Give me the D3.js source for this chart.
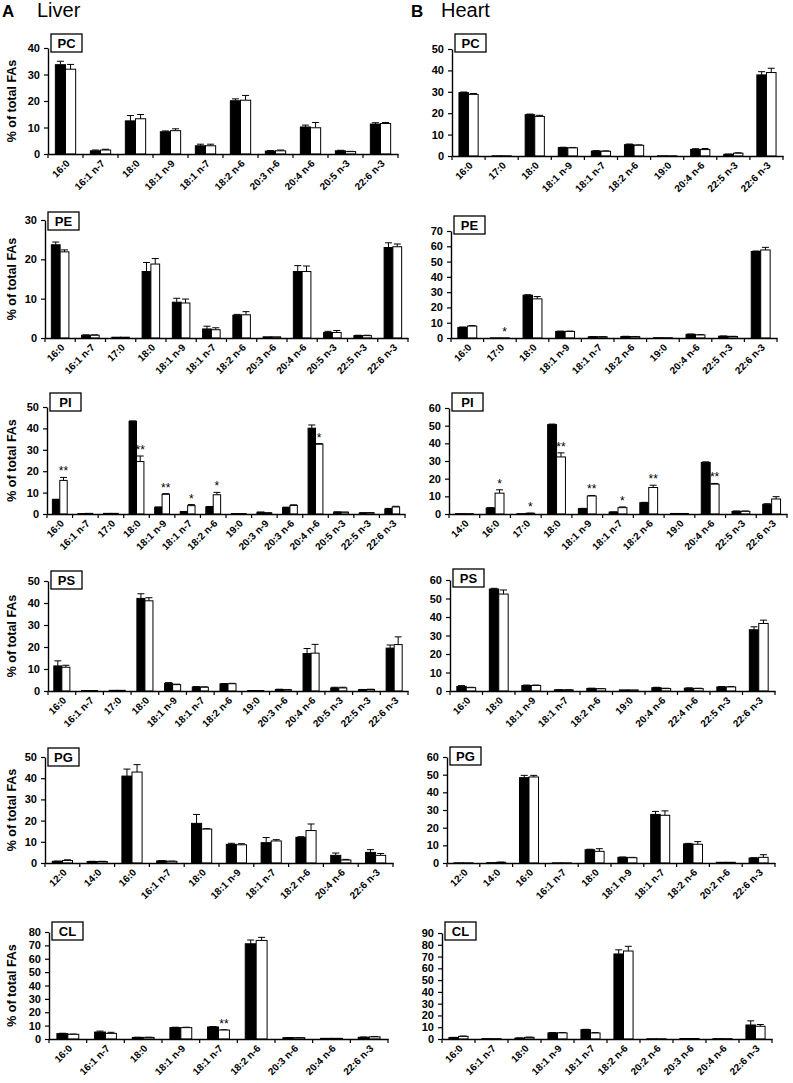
<!DOCTYPE html>
<html>
<head>
<meta charset="utf-8">
<script src="https://cdn.jsdelivr.net/npm/d3@7"></script>
<style>
  body { margin: 0; background: #fff; }
  text { font-family: "Liberation Sans", Arial, Helvetica, sans-serif; }
</style>
</head>
<body>
<div id="chart"></div>
<script>
// ---- Liver ----
const liverPCCats = ["16:0","16:1 n-7","18:0","18:1 n-9","18:1 n-7","18:2 n-6","20:3 n-6","20:4 n-6","20:5 n-3","22:6 n-3"];
const liverPCBlack = [33.7,1.2,12.5,8.4,3.1,20.1,1.1,10.2,1.2,11.3];
const liverPCBlackErr = [1.3,0.3,2.0,0.3,0.6,0.7,0.2,0.7,0.2,0.5];
const liverPCWhite = [32.0,1.5,13.3,8.8,3.1,20.3,1.2,9.9,0.9,11.5];
const liverPCWhiteErr = [1.8,0.3,1.6,0.7,0.6,1.8,0.3,2.0,0.1,0.4];
const liverPCSig = [];

const liverPECats = ["16:0","16:1 n-7","17:0","18:0","18:1 n-9","18:1 n-7","18:2 n-6","20:3 n-6","20:4 n-6","20:5 n-3","22:5 n-3","22:6 n-3"];
const liverPEBlack = [23.7,0.7,0.2,16.9,9.1,2.3,5.8,0.3,16.9,1.4,0.6,23.0];
const liverPEBlackErr = [0.7,0.1,0,2.3,1.0,0.7,0.2,0,1.5,0.3,0.1,1.2];
const liverPEWhite = [21.9,0.7,0.2,18.8,8.9,2.1,5.9,0.3,16.9,1.4,0.6,23.2];
const liverPEWhiteErr = [0.5,0.1,0,1.4,1.0,0.5,0.8,0,1.4,0.5,0.1,0.7];
const liverPESig = [];

const liverPICats = ["16:0","16:1 n-7","17:0","18:0","18:1 n-9","18:1 n-7","18:2 n-6","19:0","20:3 n-9","20:3 n-6","20:4 n-6","20:5 n-3","22:5 n-3","22:6 n-3"];
const liverPIBlack = [6.7,0.2,0.3,43.3,3.1,1.1,3.3,0.2,0.8,3.0,40.1,0.9,0.5,2.3];
const liverPIBlackErr = [0.2,0,0,0.2,0.2,0.1,0.2,0,0.1,0.2,1.5,0.1,0.1,0.3];
const liverPIWhite = [15.7,0.3,0.3,24.5,9.2,3.9,9.0,0.2,0.5,4.0,32.6,0.8,0.6,3.3];
const liverPIWhiteErr = [1.4,0,0,2.6,0.3,0.5,1.1,0,0.1,0.3,0.3,0.1,0.1,0.3];
const liverPISig = ["**","","","**","**","*","*","","","","*","","",""];

const liverPSCats = ["16:0","16:1 n-7","17:0","18:0","18:1 n-9","18:1 n-7","18:2 n-6","19:0","20:3 n-6","20:4 n-6","20:5 n-3","22:5 n-3","22:6 n-3"];
const liverPSBlack = [11.4,0.2,0.3,42.1,3.5,1.8,3.2,0.2,0.7,17.0,1.4,0.6,19.5];
const liverPSBlackErr = [2.3,0,0,2.1,0.3,0.2,0.2,0,0.1,2.3,0.3,0.1,1.4];
const liverPSWhite = [10.8,0.2,0.3,41.0,2.9,1.7,3.3,0.2,0.6,17.2,1.4,0.7,21.1];
const liverPSWhiteErr = [0.9,0,0,1.4,0.2,0.2,0.2,0,0.1,4.0,0.3,0.1,3.5];
const liverPSSig = [];

const liverPGCats = ["12:0","14:0","16:0","16:1 n-7","18:0","18:1 n-9","18:1 n-7","18:2 n-6","20:4 n-6","22:6 n-3"];
const liverPGBlack = [0.8,0.7,41.0,1.0,18.7,8.8,9.6,12.1,3.6,5.0];
const liverPGBlackErr = [0.1,0.1,3.3,0.1,4.2,0.5,2.4,0.3,1.1,1.3];
const liverPGWhite = [1.2,0.7,42.9,0.8,16.0,8.6,10.4,15.3,1.4,3.6];
const liverPGWhiteErr = [0.3,0.1,3.5,0.1,0.2,0.5,0.6,3.1,0.3,0.9];
const liverPGSig = [];

const liverCLCats = ["16:0","16:1 n-7","18:0","18:1 n-9","18:1 n-7","18:2 n-6","20:3 n-6","20:4 n-6","22:6 n-3"];
const liverCLBlack = [4.0,5.2,1.2,8.5,9.0,71.2,1.0,0.5,1.3];
const liverCLBlackErr = [0.3,0.7,0.1,0.3,0.3,2.8,0.1,0,0.2];
const liverCLWhite = [3.5,4.2,1.2,8.5,6.7,73.7,1.0,0.5,1.6];
const liverCLWhiteErr = [0.2,0.8,0.1,0.3,0.2,2.3,0.1,0,0.3];
const liverCLSig = ["","","","","**","","","",""];

// ---- Heart ----
const heartPCCats = ["16:0","17:0","18:0","18:1 n-9","18:1 n-7","18:2 n-6","19:0","20:4 n-6","22:5 n-3","22:6 n-3"];
const heartPCBlack = [29.6,0.1,19.3,3.9,2.3,5.3,0.1,3.1,0.8,37.9];
const heartPCBlackErr = [0.3,0,0.3,0.2,0.2,0.3,0,0.3,0.1,1.5];
const heartPCWhite = [28.8,0.1,18.5,3.8,2.2,5.0,0.1,3.0,1.3,39.0];
const heartPCWhiteErr = [0.4,0,0.5,0.2,0.2,0.2,0,0.5,0.2,2.0];
const heartPCSig = [];

const heartPECats = ["16:0","17:0","18:0","18:1 n-9","18:1 n-7","18:2 n-6","19:0","20:4 n-6","22:5 n-3","22:6 n-3"];
const heartPEBlack = [6.9,0.1,28.0,4.3,0.8,1.0,0.2,2.4,1.2,56.6];
const heartPEBlackErr = [0.3,0,0.3,0.2,0.1,0.1,0,0.2,0.1,0.3];
const heartPEWhite = [7.8,0.1,25.6,4.3,0.8,0.9,0.2,2.0,1.0,57.6];
const heartPEWhiteErr = [0.3,0,1.5,0.2,0.1,0.1,0,0.2,0.1,1.7];
const heartPESig = ["","*","","","","","","","",""];

const heartPICats = ["14:0","16:0","17:0","18:0","18:1 n-9","18:1 n-7","18:2 n-6","19:0","20:4 n-6","22:5 n-3","22:6 n-3"];
const heartPIBlack = [0.2,3.4,0.2,50.6,3.0,1.1,6.4,0.3,29.2,1.5,5.5];
const heartPIBlackErr = [0,0.2,0,0.3,0.2,0.1,0.2,0,0.3,0.2,0.3];
const heartPIWhite = [0.2,11.8,0.4,32.3,10.2,3.6,15.0,0.3,16.9,1.5,8.5];
const heartPIWhiteErr = [0,1.9,0.1,2.3,0.3,0.4,1.3,0,0.4,0.2,1.3];
const heartPISig = ["","*","*","**","**","*","**","","**","",""];

const heartPSCats = ["16:0","18:0","18:1 n-9","18:1 n-7","18:2 n-6","19:0","20:4 n-6","22:4 n-6","22:5 n-3","22:6 n-3"];
const heartPSBlack = [2.5,55.1,3.0,0.6,1.4,0.6,1.8,1.5,2.2,33.1];
const heartPSBlackErr = [0.4,0.4,0.2,0.1,0.1,0,0.2,0.2,0.2,1.6];
const heartPSWhite = [1.8,52.4,3.0,0.6,1.2,0.6,1.3,1.3,2.2,36.5];
const heartPSWhiteErr = [0.2,2.2,0.2,0.1,0.1,0,0.2,0.2,0.2,1.8];
const heartPSSig = [];

const heartPGCats = ["12:0","14:0","16:0","16:1 n-7","18:0","18:1 n-9","18:1 n-7","18:2 n-6","20:2 n-6","22:6 n-3"];
const heartPGBlack = [0.1,0.2,48.3,0.1,7.5,3.2,27.5,10.8,0.4,2.8];
const heartPGBlackErr = [0,0,1.3,0,0.3,0.2,1.7,0.3,0,0.2];
const heartPGWhite = [0.1,0.4,48.7,0.1,6.6,3.0,27.0,10.6,0.4,3.2];
const heartPGWhiteErr = [0,0.1,0.9,0,1.5,0.2,2.5,1.5,0,1.5];
const heartPGSig = [];

const heartCLCats = ["16:0","16:1 n-7","18:0","18:1 n-9","18:1 n-7","18:2 n-6","20:2 n-6","20:3 n-6","20:4 n-6","22:6 n-3"];
const heartCLBlack = [1.2,0.3,0.8,5.2,7.9,72.2,0.2,0.4,0.3,11.9];
const heartCLBlackErr = [0.2,0,0.1,0.3,0.3,3.5,0,0,0,3.5];
const heartCLWhite = [2.2,0.3,1.4,5.2,5.1,74.7,0.2,0.4,0.3,10.8];
const heartCLWhiteErr = [0.3,0,0.2,0.3,0.3,4.0,0,0,0,1.5];
const heartCLSig = [];

const yMaxes = { liver: [40,30,50,50,50,80], heart: [50,70,60,60,60,90] };

// panel placement (px): axis left/right, top tick / zero line, label box top
const liverLayout = [
  {x0:48, x1:398, top:48,  bottom:154, box:34},
  {x0:45, x1:408, top:220, bottom:338, box:212},
  {x0:47, x1:405, top:407, bottom:514, box:393},
  {x0:48, x1:408, top:581, bottom:691, box:571},
  {x0:45, x1:393, top:757, bottom:863, box:748},
  {x0:49, x1:388, top:932, bottom:1039, box:922}
];
const heartLayout = [
  {x0:452, x1:783, top:49,  bottom:156, box:34},
  {x0:451, x1:777, top:231, bottom:338, box:216},
  {x0:449, x1:787, top:408, bottom:514, box:393},
  {x0:450, x1:775, top:580, bottom:691, box:569},
  {x0:447, x1:775, top:757, bottom:863, box:747},
  {x0:442, x1:772, top:933, bottom:1039, box:922}
];

const lipids = ["PC","PE","PI","PS","PG","CL"];
const liverData = [
  [liverPCCats, liverPCBlack, liverPCBlackErr, liverPCWhite, liverPCWhiteErr, liverPCSig],
  [liverPECats, liverPEBlack, liverPEBlackErr, liverPEWhite, liverPEWhiteErr, liverPESig],
  [liverPICats, liverPIBlack, liverPIBlackErr, liverPIWhite, liverPIWhiteErr, liverPISig],
  [liverPSCats, liverPSBlack, liverPSBlackErr, liverPSWhite, liverPSWhiteErr, liverPSSig],
  [liverPGCats, liverPGBlack, liverPGBlackErr, liverPGWhite, liverPGWhiteErr, liverPGSig],
  [liverCLCats, liverCLBlack, liverCLBlackErr, liverCLWhite, liverCLWhiteErr, liverCLSig]
];
const heartData = [
  [heartPCCats, heartPCBlack, heartPCBlackErr, heartPCWhite, heartPCWhiteErr, heartPCSig],
  [heartPECats, heartPEBlack, heartPEBlackErr, heartPEWhite, heartPEWhiteErr, heartPESig],
  [heartPICats, heartPIBlack, heartPIBlackErr, heartPIWhite, heartPIWhiteErr, heartPISig],
  [heartPSCats, heartPSBlack, heartPSBlackErr, heartPSWhite, heartPSWhiteErr, heartPSSig],
  [heartPGCats, heartPGBlack, heartPGBlackErr, heartPGWhite, heartPGWhiteErr, heartPGSig],
  [heartCLCats, heartCLBlack, heartCLBlackErr, heartCLWhite, heartCLWhiteErr, heartCLSig]
];

const svg = d3.select("#chart").append("svg")
  .attr("width", 793).attr("height", 1083)
  .attr("viewBox", [0, 0, 793, 1083]);

// panel headings
svg.append("text").attr("x", 2).attr("y", 17).attr("font-size", 17).attr("font-weight", "bold").text("A");
svg.append("text").attr("x", 37).attr("y", 17).attr("font-size", 20).text("Liver");
svg.append("text").attr("x", 411).attr("y", 17).attr("font-size", 17).attr("font-weight", "bold").text("B");
svg.append("text").attr("x", 441).attr("y", 17).attr("font-size", 20).text("Heart");

function drawPanel(data, L, lipid, yMax, withTitle) {
  const [cats, black, blackErr, white, whiteErr, sig] = data;
  const x = d3.scaleBand().domain(cats).range([L.x0, L.x1]);
  const y = d3.scaleLinear().domain([0, yMax]).range([L.bottom, L.top]);
  const bw = x.bandwidth() * 0.29;
  const g = svg.append("g");

  const rows = [];
  cats.forEach((c, i) => {
    rows.push({c: c, k: 0, v: black[i], e: blackErr[i], s: ""});
    rows.push({c: c, k: 1, v: white[i], e: whiteErr[i], s: sig[i] || ""});
  });
  const cx = d => x(d.c) + x.bandwidth() / 2 + (d.k === 0 ? -bw / 2 : bw / 2);

  // error bars (upper only)
  const eb = g.selectAll("g.err").data(rows.filter(d => d.e > 0)).join("g")
    .attr("stroke", "#000").attr("stroke-width", 1);
  eb.append("line")
    .attr("x1", cx).attr("x2", cx)
    .attr("y1", d => y(d.v)).attr("y2", d => y(d.v + d.e));
  eb.append("line")
    .attr("x1", d => cx(d) - 3.5).attr("x2", d => cx(d) + 3.5)
    .attr("y1", d => y(d.v + d.e)).attr("y2", d => y(d.v + d.e));

  g.selectAll("rect.bar").data(rows).join("rect")
    .attr("class", "bar")
    .attr("x", d => cx(d) - bw / 2)
    .attr("width", bw)
    .attr("y", d => y(d.v))
    .attr("height", d => Math.max(0.5, y(0) - y(d.v)))
    .attr("fill", d => d.k === 0 ? "#000" : "#fff")
    .attr("stroke", "#000")
    .attr("stroke-width", 1);

  g.selectAll("text.sig").data(rows.filter(d => d.s)).join("text")
    .attr("class", "sig")
    .attr("x", cx)
    .attr("y", d => y(d.v + d.e) - 2)
    .attr("text-anchor", "middle")
    .attr("font-size", 12)
    .attr("fill", "#000")
    .text(d => d.s);

  // y axis
  const ya = g.append("g")
    .attr("transform", `translate(${L.x0},0)`)
    .call(d3.axisLeft(y).tickValues(d3.range(0, yMax + 1, 10)).tickSizeInner(4).tickSizeOuter(0).tickPadding(4));
  ya.select(".domain").attr("stroke-width", 1.4);
  ya.selectAll(".tick line").attr("stroke-width", 1.2);
  ya.selectAll(".tick text").attr("font-size", 11).attr("font-weight", "bold").attr("font-family", null);

  // x axis
  const xa = g.append("g")
    .attr("transform", `translate(0,${L.bottom})`)
    .call(d3.axisBottom(x).tickSize(0).tickSizeOuter(0));
  xa.select(".domain").attr("stroke-width", 1.4);
  xa.selectAll(".tick text")
    .attr("x", 0).attr("y", 0).attr("dy", 0)
    .attr("transform", "translate(5,10) rotate(-45)")
    .attr("text-anchor", "end")
    .attr("font-size", 10)
    .attr("font-weight", "bold")
    .attr("font-family", null);
  g.selectAll("line.xtick").data(cats.map(c => x(c)).concat([L.x1])).join("line")
    .attr("class", "xtick")
    .attr("x1", d => d).attr("x2", d => d)
    .attr("y1", L.bottom).attr("y2", L.bottom + 4)
    .attr("stroke", "#000").attr("stroke-width", 1.2);

  // lipid class box
  g.append("rect")
    .attr("x", L.x0 + 3).attr("y", L.box)
    .attr("width", 31).attr("height", 18)
    .attr("fill", "#fff").attr("stroke", "#000").attr("stroke-width", 1.3);
  g.append("text")
    .attr("x", L.x0 + 18.5).attr("y", L.box + 13.5)
    .attr("text-anchor", "middle")
    .attr("font-size", 13).attr("font-weight", "bold")
    .text(lipid);

  if (withTitle) {
    const my = (L.top + L.bottom) / 2;
    g.append("text")
      .attr("transform", `translate(16,${my}) rotate(-90)`)
      .attr("text-anchor", "middle")
      .attr("font-size", 12.5).attr("font-weight", "bold")
      .text("% of total FAs");
  }
}

lipids.forEach((lp, i) => {
  drawPanel(liverData[i], liverLayout[i], lp, yMaxes.liver[i], true);
  drawPanel(heartData[i], heartLayout[i], lp, yMaxes.heart[i], false);
});
</script>
</body>
</html>
